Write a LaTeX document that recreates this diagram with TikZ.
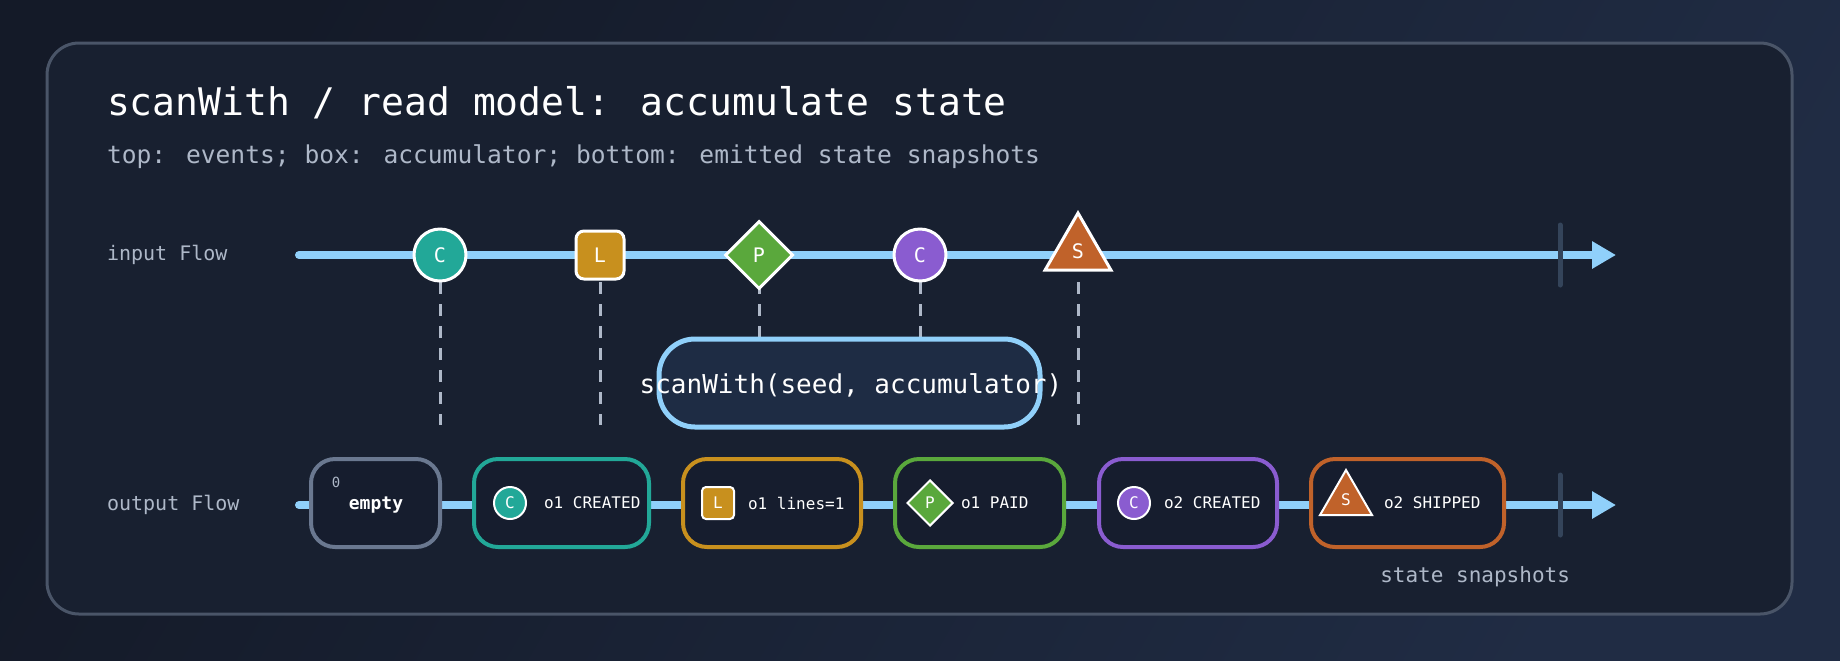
\documentclass[tikz,border=0pt]{standalone}
\usepackage{fontspec}
\setmainfont{DejaVu Sans Mono}
\usetikzlibrary{shapes.geometric,arrows.meta}
\definecolor{bgA}{HTML}{141A28}\definecolor{bgB}{HTML}{202C44}
\definecolor{panel}{HTML}{182030}\definecolor{pedge}{HTML}{4A5568}
\definecolor{flow}{HTML}{90D0FA}\definecolor{boxbg}{HTML}{161D2E}\definecolor{accbg}{HTML}{1E2C44}
\definecolor{cT}{HTML}{22A898}\definecolor{cL}{HTML}{C8901E}\definecolor{cP}{HTML}{5AA83C}
\definecolor{cC}{HTML}{8A5CD0}\definecolor{cS}{HTML}{C0622A}\definecolor{cE}{HTML}{6A7890}
\definecolor{muted}{HTML}{AEB8C8}\definecolor{tick}{HTML}{34445A}
\begin{document}
\begin{tikzpicture}[x=0.5pt,y=-0.5pt,
 ev/.style={draw=white,line width=1.5pt,text=white,inner sep=0pt,font=\fontsize{10}{10}\selectfont},
 evc/.style={ev,circle,minimum size=26pt},
 evl/.style={ev,rounded corners=4pt,minimum size=24pt},
 evp/.style={ev,diamond,minimum size=34pt},
 evs/.style={ev,regular polygon,regular polygon sides=3,minimum size=38pt,text depth=-7pt},
 sev/.style={draw=white,line width=1pt,text=white,inner sep=0pt,font=\fontsize{8}{8}\selectfont},
 st/.style={draw=#1,line width=2pt,fill=boxbg,rounded corners=12pt,minimum height=44pt,inner sep=0pt},
 bt/.style={text=white,font=\fontsize{8}{8}\selectfont,anchor=west},
 guide/.style={draw=muted,line width=1.5pt,dash pattern=on 6pt off 5pt},
 flowl/.style={draw=flow,line width=4pt,line cap=round,-{Triangle[length=12pt,width=13pt]}},
 lab/.style={text=muted,font=\fontsize{10}{10}\selectfont,anchor=west}]
\useasboundingbox (0,0) rectangle (1840,660);
\shade[left color=bgA,right color=bgB,shading angle=60] (0,0) rectangle (1840,660);
\draw[draw=pedge,fill=panel,line width=1.5pt,rounded corners=16pt] (47,43) rectangle (1792,614);
\node[text=white,anchor=west,font=\fontsize{19}{19}\selectfont] (title) at (100,103) {scanWith / read model: accumulate state};
\node[lab,font=\fontsize{12.3}{12.3}\selectfont] (sub) at (100,157) {top: events; box: accumulator; bottom: emitted state snapshots};
\node[lab] (inl) at (100,255) {input Flow};
\node[lab] (outl) at (100,505) {output Flow};
% input
\coordinate (is) at (299,255);\coordinate (ie) at (1616,255);
\draw[flowl] (is) -- (ie);
\coordinate (it1) at (1560,225);\coordinate (it2) at (1560,285);
\draw[tick,line width=2.5pt,line cap=round] (it1) -- (it2);
% output line
\coordinate (os) at (299,505);\coordinate (oe) at (1616,505);
\draw[flowl] (os) -- (oe);
\coordinate (ot1) at (1560,475);\coordinate (ot2) at (1560,535);
\draw[tick,line width=2.5pt,line cap=round] (ot1) -- (ot2);
% guides
\foreach \x/\n in {440/1,600/2,759/3,920/4,1078/5}{
 \coordinate (dt\n) at (\x,282);\coordinate (db\n) at (\x,425);
 \draw[guide] (dt\n) -- (db\n);}
% accumulator
\node[draw=flow,line width=2.5pt,fill=accbg,rounded corners=18pt,minimum width=190.5pt,minimum height=44pt] (acc) at (849.5,383) {};
\node[text=white,font=\fontsize{13}{13}\selectfont] (acct) at (851,385) {scanWith(seed, accumulator)};
% events
\node[evc,fill=cT] (e1) at (440,255) {C};
\node[evl,fill=cL] (e2) at (600,255) {L};
\node[evp,fill=cP] (e3) at (759,255) {P};
\node[evc,fill=cC] (e4) at (920,255) {C};
\node[evs,fill=cS] (e5) at (1078,251) {S};
% output boxes
\node[st=cE,minimum width=64.5pt] (b0) at (375.5,503) {};
\node[text=muted,font=\fontsize{7}{7}\selectfont] (z) at (336,482) {0};
\node[text=white,font=\bfseries\fontsize{9}{9}\selectfont] (emp) at (376,505) {empty};
\node[st=cT,minimum width=87.5pt] (b1) at (561.5,503) {};
\node[sev,circle,fill=cT,minimum size=16pt] (i1) at (510,503) {C};
\node[bt] (t1) at (537,503) {o1 CREATED};
\node[st=cL,minimum width=89pt] (b2) at (772,503) {};
\node[sev,rounded corners=2pt,fill=cL,minimum size=16pt] (i2) at (718,503) {L};
\node[bt] (t2) at (741,503) {o1 lines=1};
\node[st=cP,minimum width=84.5pt] (b3) at (979.5,503) {};
\node[sev,diamond,fill=cP,minimum size=23pt] (i3) at (930,503) {P};
\node[bt] (t3) at (954,503) {o1 PAID};
\node[st=cC,minimum width=89pt] (b4) at (1188,503) {};
\node[sev,circle,fill=cC,minimum size=16pt] (i4) at (1134,503) {C};
\node[bt] (t4) at (1157,503) {o2 CREATED};
\node[st=cS,minimum width=96.5pt] (b5) at (1407.5,503) {};
\node[sev,regular polygon,regular polygon sides=3,fill=cS,minimum size=30pt,text depth=-5pt] (i5) at (1346,500) {S};
\node[bt] (t5) at (1377,503) {o2 SHIPPED};
\node[text=muted,anchor=east,font=\fontsize{10.5}{10.5}\selectfont] (snap) at (1577,577) {state snapshots};
\end{tikzpicture}
\end{document}
